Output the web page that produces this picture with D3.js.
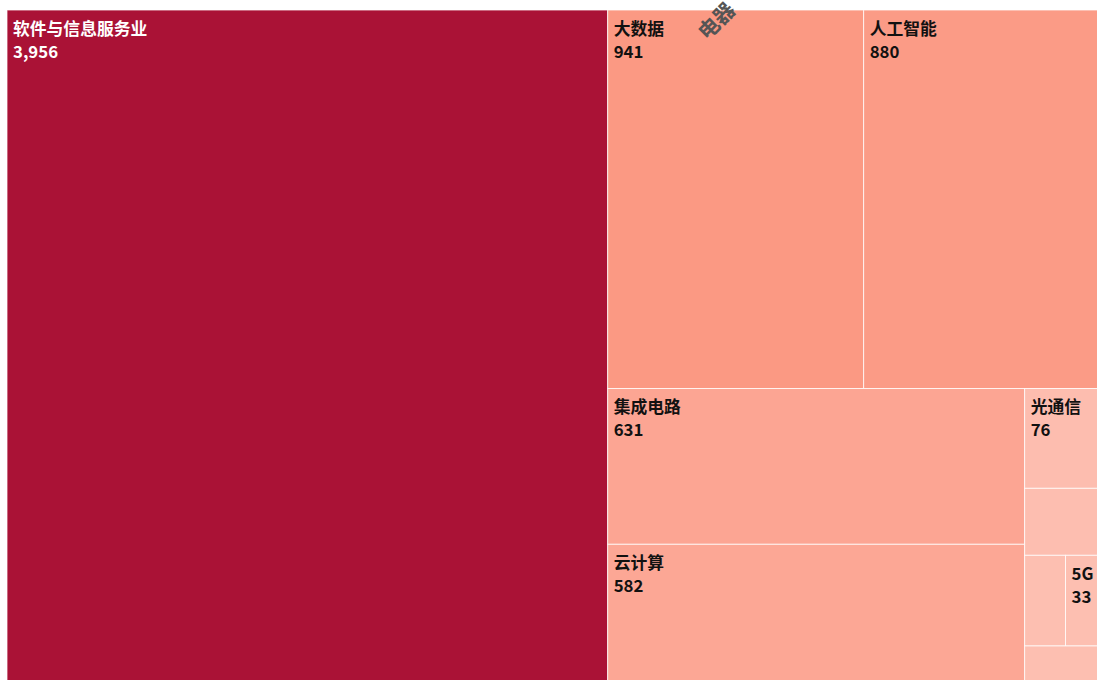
<!DOCTYPE html>
<html>
<head>
<meta charset="utf-8">
<script src="https://cdn.jsdelivr.net/npm/d3@7"></script>
<style>
  html, body { margin: 0; padding: 0; background: #fff; overflow: hidden; }
  svg { display: block; }
  text { font-family: "Noto Sans CJK SC", "Noto Sans", sans-serif; font-weight: 700; }
</style>
</head>
<body>
<svg id="chart" width="1097" height="680"></svg>
<script>
// ---- data ----
const categories = ["软件与信息服务业", "大数据", "人工智能", "集成电路", "云计算", "光通信", "工业互联网", "区块链", "5G", "虚拟现实与增强现实"];
const values = [3956, 941, 880, 631, 582, 76, 51, 36, 33, 32];
const colorStops = [33, 582, 941, 3956];

const svg = d3.select("#chart");
const W = 1096, H = 678, X0 = 7, Y0 = 10;

const root = d3.hierarchy({ children: categories.map((c, i) => ({ name: c, value: values[i] })) })
  .sum(d => d.value || 0)
  .sort((a, b) => b.value - a.value);

d3.treemap().size([W, H]).tile(d3.treemapSquarify).round(false)(root);

const color = d3.scaleLinear()
  .domain(colorStops)
  .range(["#FDBFB1", "#FCA795", "#FB9983", "#AA1236"])
  .interpolate(d3.interpolateRgb);

const g = svg.append("g").attr("transform", `translate(${X0},${Y0})`);
const fmt = d3.format(",");

const cell = g.selectAll("g.cell").data(root.leaves()).join("g")
  .attr("class", "cell")
  .attr("transform", d => `translate(${d.x0},${d.y0})`);

cell.append("rect")
  .attr("width", d => d.x1 - d.x0)
  .attr("height", d => d.y1 - d.y0)
  .attr("fill", d => color(d.value))
  .attr("stroke", "#fff")
  .attr("stroke-opacity", 0.75)
  .attr("stroke-width", 1);

const fs = 16.8;
cell.each(function(d) {
  const w = d.x1 - d.x0, h = d.y1 - d.y0;
  const sel = d3.select(this);
  const fill = d.value > 2000 ? "#fff" : "#111";
  const t1 = sel.append("text").attr("x", 6).attr("y", 25)
    .attr("font-size", fs).attr("fill", fill).text(d.data.name);
  const tw = t1.node().getComputedTextLength();
  if (tw + 9 > w || h < 52) { t1.remove(); return; }
  sel.append("text").attr("x", 6).attr("y", 48)
    .attr("font-size", fs).attr("fill", fill).text(fmt(d.value));
});

// stray rotated glyphs at the top edge
svg.append("text")
  .attr("transform", "translate(707,41) rotate(-45)")
  .attr("font-size", 21).attr("fill", "#555").attr("font-weight", 400)
  .text("电器");
</script>
</body>
</html>
